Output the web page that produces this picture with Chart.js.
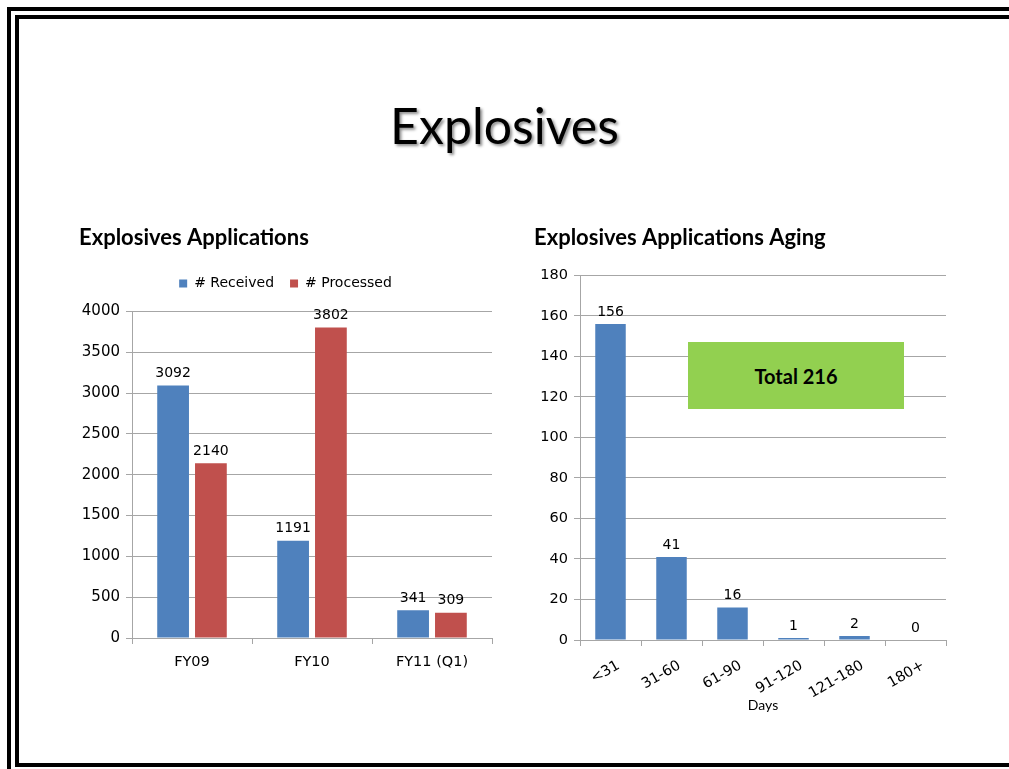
<!DOCTYPE html>
<html><head><meta charset="utf-8">
<script src="https://cdn.jsdelivr.net/npm/chart.js@4/dist/chart.umd.min.js"></script>
<style>
html,body{margin:0;padding:0;background:#fff;width:1009px;height:769px;overflow:hidden;position:relative}
.ln{position:absolute;background:#000}
#title{position:absolute;left:0;width:1009px;top:95px;text-align:center;font:50px Lato,sans-serif;color:#000;text-shadow:2px 2px 3px rgba(0,0,0,0.45)}
canvas{position:absolute}
#total{position:absolute;left:688px;top:342px;width:216px;height:67px;background:#92D050;font:bold 20px Lato,sans-serif;color:#000;display:flex;align-items:center;justify-content:center}
</style></head><body>
<div class="ln" style="left:7px;top:7px;width:1002px;height:4px"></div>
<div class="ln" style="left:7px;top:7px;width:4px;height:762px"></div>
<div class="ln" style="left:15px;top:15px;width:994px;height:4px"></div>
<div class="ln" style="left:15px;top:15px;width:4px;height:752px"></div>
<div class="ln" style="left:15px;top:763px;width:994px;height:4px"></div>
<div id="title">Explosives</div>
<div style="position:absolute;left:60px;top:215px;width:450px;height:475px"><canvas id="c1" width="450" height="475" style="left:0;top:0"></canvas></div>
<div style="position:absolute;left:515px;top:215px;width:450px;height:505px"><canvas id="c2" width="450" height="505" style="left:0;top:0"></canvas></div>
<div id="total">Total 216</div>
<script>
const appCategories = ["FY09", "FY10", "FY11 (Q1)"];
const receivedValues = [3092, 1191, 341];
const processedValues = [2140, 3802, 309];
const agingCategories = ["<31", "31-60", "61-90", "91-120", "121-180", "180+"];
const agingValues = [156, 41, 16, 1, 2, 0];

const FONT = "'DejaVu Sans', sans-serif";
const GRID = "#a6a6a6";

const valueLabels = {
  id: "valueLabels",
  afterDatasetsDraw(chart) {
    const ctx = chart.ctx;
    ctx.save();
    ctx.font = "14px " + FONT;
    ctx.fillStyle = "#000";
    ctx.textAlign = "center";
    ctx.textBaseline = "bottom";
    chart.data.datasets.forEach((ds, i) => {
      chart.getDatasetMeta(i).data.forEach((bar, j) => {
        ctx.fillText(String(ds.data[j]), bar.x, bar.y - 5);
      });
    });
    ctx.restore();
  }
};

Chart.defaults.animation = false;
Chart.defaults.responsive = false;
Chart.defaults.font.family = FONT;
Chart.defaults.color = "#000";

const spacer = (h) => ({
  position: "top", display: true,
  grid: {display: false, drawTicks: false}, border: {display: false},
  ticks: {display: false},
  afterFit(s) { s.height = h; }
});

new Chart(document.getElementById("c1"), {
  type: "bar",
  data: {
    labels: appCategories,
    datasets: [
      {label: "# Received", data: receivedValues, backgroundColor: "#4F81BD", barPercentage: 0.84, categoryPercentage: 0.63},
      {label: "# Processed", data: processedValues, backgroundColor: "#C0504D", barPercentage: 0.84, categoryPercentage: 0.63}
    ]
  },
  options: {
    layout: {padding: {left: 19, right: 18, top: 0, bottom: 0}},
    plugins: {
      title: {display: true, text: "Explosives Applications", align: "start", font: {family: "Lato, sans-serif", size: 22, weight: "bold"}, color: "#000", padding: {top: 10, bottom: 9}},
      legend: {display: true, labels: {boxWidth: 8, boxHeight: 8, font: {size: 14}, color: "#000", padding: 16}},
      tooltip: {enabled: false}
    },
    scales: {
      x: {
        grid: {display: true, drawOnChartArea: false, color: GRID, tickLength: 6, offset: true},
        border: {color: GRID},
        ticks: {font: {size: 14.5}, color: "#000", padding: 10},
        afterFit(s) { s.height = 52; }
      },
      top: spacer(11),
      y: {
        min: 0, max: 4000,
        grid: {color: GRID, tickLength: 6},
        border: {color: GRID},
        ticks: {stepSize: 500, font: {size: 15}, color: "#000", padding: 6, callback: (v) => String(v)},
        afterFit(s) { s.width = 53; }
      }
    }
  },
  plugins: [valueLabels]
});

new Chart(document.getElementById("c2"), {
  type: "bar",
  data: {
    labels: agingCategories,
    datasets: [
      {label: "Aging", data: agingValues, backgroundColor: "#4F81BD", barPercentage: 0.5, categoryPercentage: 1.0}
    ]
  },
  options: {
    layout: {padding: {left: 19, right: 19, top: 0, bottom: 0}},
    plugins: {
      title: {display: true, text: "Explosives Applications Aging", align: "start", font: {family: "Lato, sans-serif", size: 22, weight: "bold"}, color: "#000", padding: {top: 10, bottom: 24}},
      legend: {display: false},
      tooltip: {enabled: false}
    },
    scales: {
      x: {
        grid: {display: true, drawOnChartArea: false, color: GRID, tickLength: 6, offset: true},
        border: {color: GRID},
        ticks: {font: {size: 14.5}, color: "#000", minRotation: 30, maxRotation: 30, padding: 11, labelOffset: 8},
        title: {display: true, text: "Days", font: {family: "Lato, sans-serif", size: 14}, color: "#000", padding: {top: 0, bottom: 6}},
        afterFit(s) { s.height = 80; }
      },
      y: {
        min: 0, max: 180,
        grid: {color: GRID, tickLength: 6},
        border: {color: GRID},
        ticks: {stepSize: 20, font: {size: 14.5}, color: "#000", padding: 6},
        afterFit(s) { s.width = 46; }
      }
    }
  },
  plugins: [valueLabels]
});
</script>
</body></html>
